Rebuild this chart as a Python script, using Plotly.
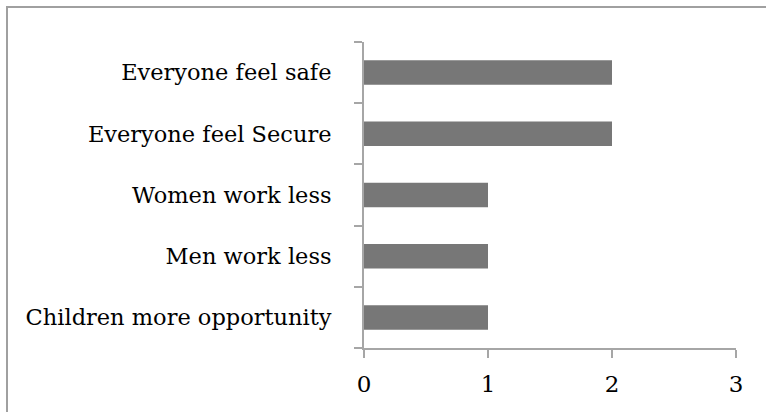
import plotly.graph_objects as go

categories = ["Children more opportunity", "Men work less", "Women work less",
              "Everyone feel Secure", "Everyone feel safe"]
values = [1, 1, 1, 2, 2]
x_ticks = [0, 1, 2, 3]

FONT = "DejaVu Serif"
AX = "#a6a6a6"

fig = go.Figure(go.Bar(
    y=categories, x=values, orientation="h",
    marker=dict(color="#777777", line=dict(width=0)),
    width=0.4,
))

fig.update_layout(
    width=766, height=412,
    margin=dict(l=364, r=30, t=42, b=64),
    paper_bgcolor="white", plot_bgcolor="white",
    showlegend=False,
    font=dict(family=FONT, size=22, color="#000000"),
    xaxis=dict(
        range=[0, 3], tickvals=x_ticks, ticktext=[str(v) for v in x_ticks],
        showgrid=False, zeroline=False,
        showline=True, linecolor=AX, linewidth=2,
        ticks="outside", ticklen=8, tickwidth=2, tickcolor=AX,
        tickfont=dict(family=FONT, size=23), ticklabelstandoff=6,
    ),
    yaxis=dict(
        type="category", categoryorder="array", categoryarray=categories,
        range=[-0.5, 4.5],
        showgrid=False, zeroline=False,
        showline=True, linecolor=AX, linewidth=2,
        ticks="outside", ticklen=8, tickwidth=2, tickcolor=AX,
        tickson="boundaries",
        tickfont=dict(family=FONT, size=22.5), ticklabelstandoff=26,
    ),
    shapes=[dict(
        type="rect", xref="paper", yref="paper",
        x0=(7 - 364) / 372, x1=(780 - 364) / 372,
        y0=(348 - 430) / 306, y1=(348 - 7) / 306,
        line=dict(color="#a0a0a0", width=2), fillcolor="rgba(0,0,0,0)",
        layer="below",
    )],
)

fig.write_html("out.html")
